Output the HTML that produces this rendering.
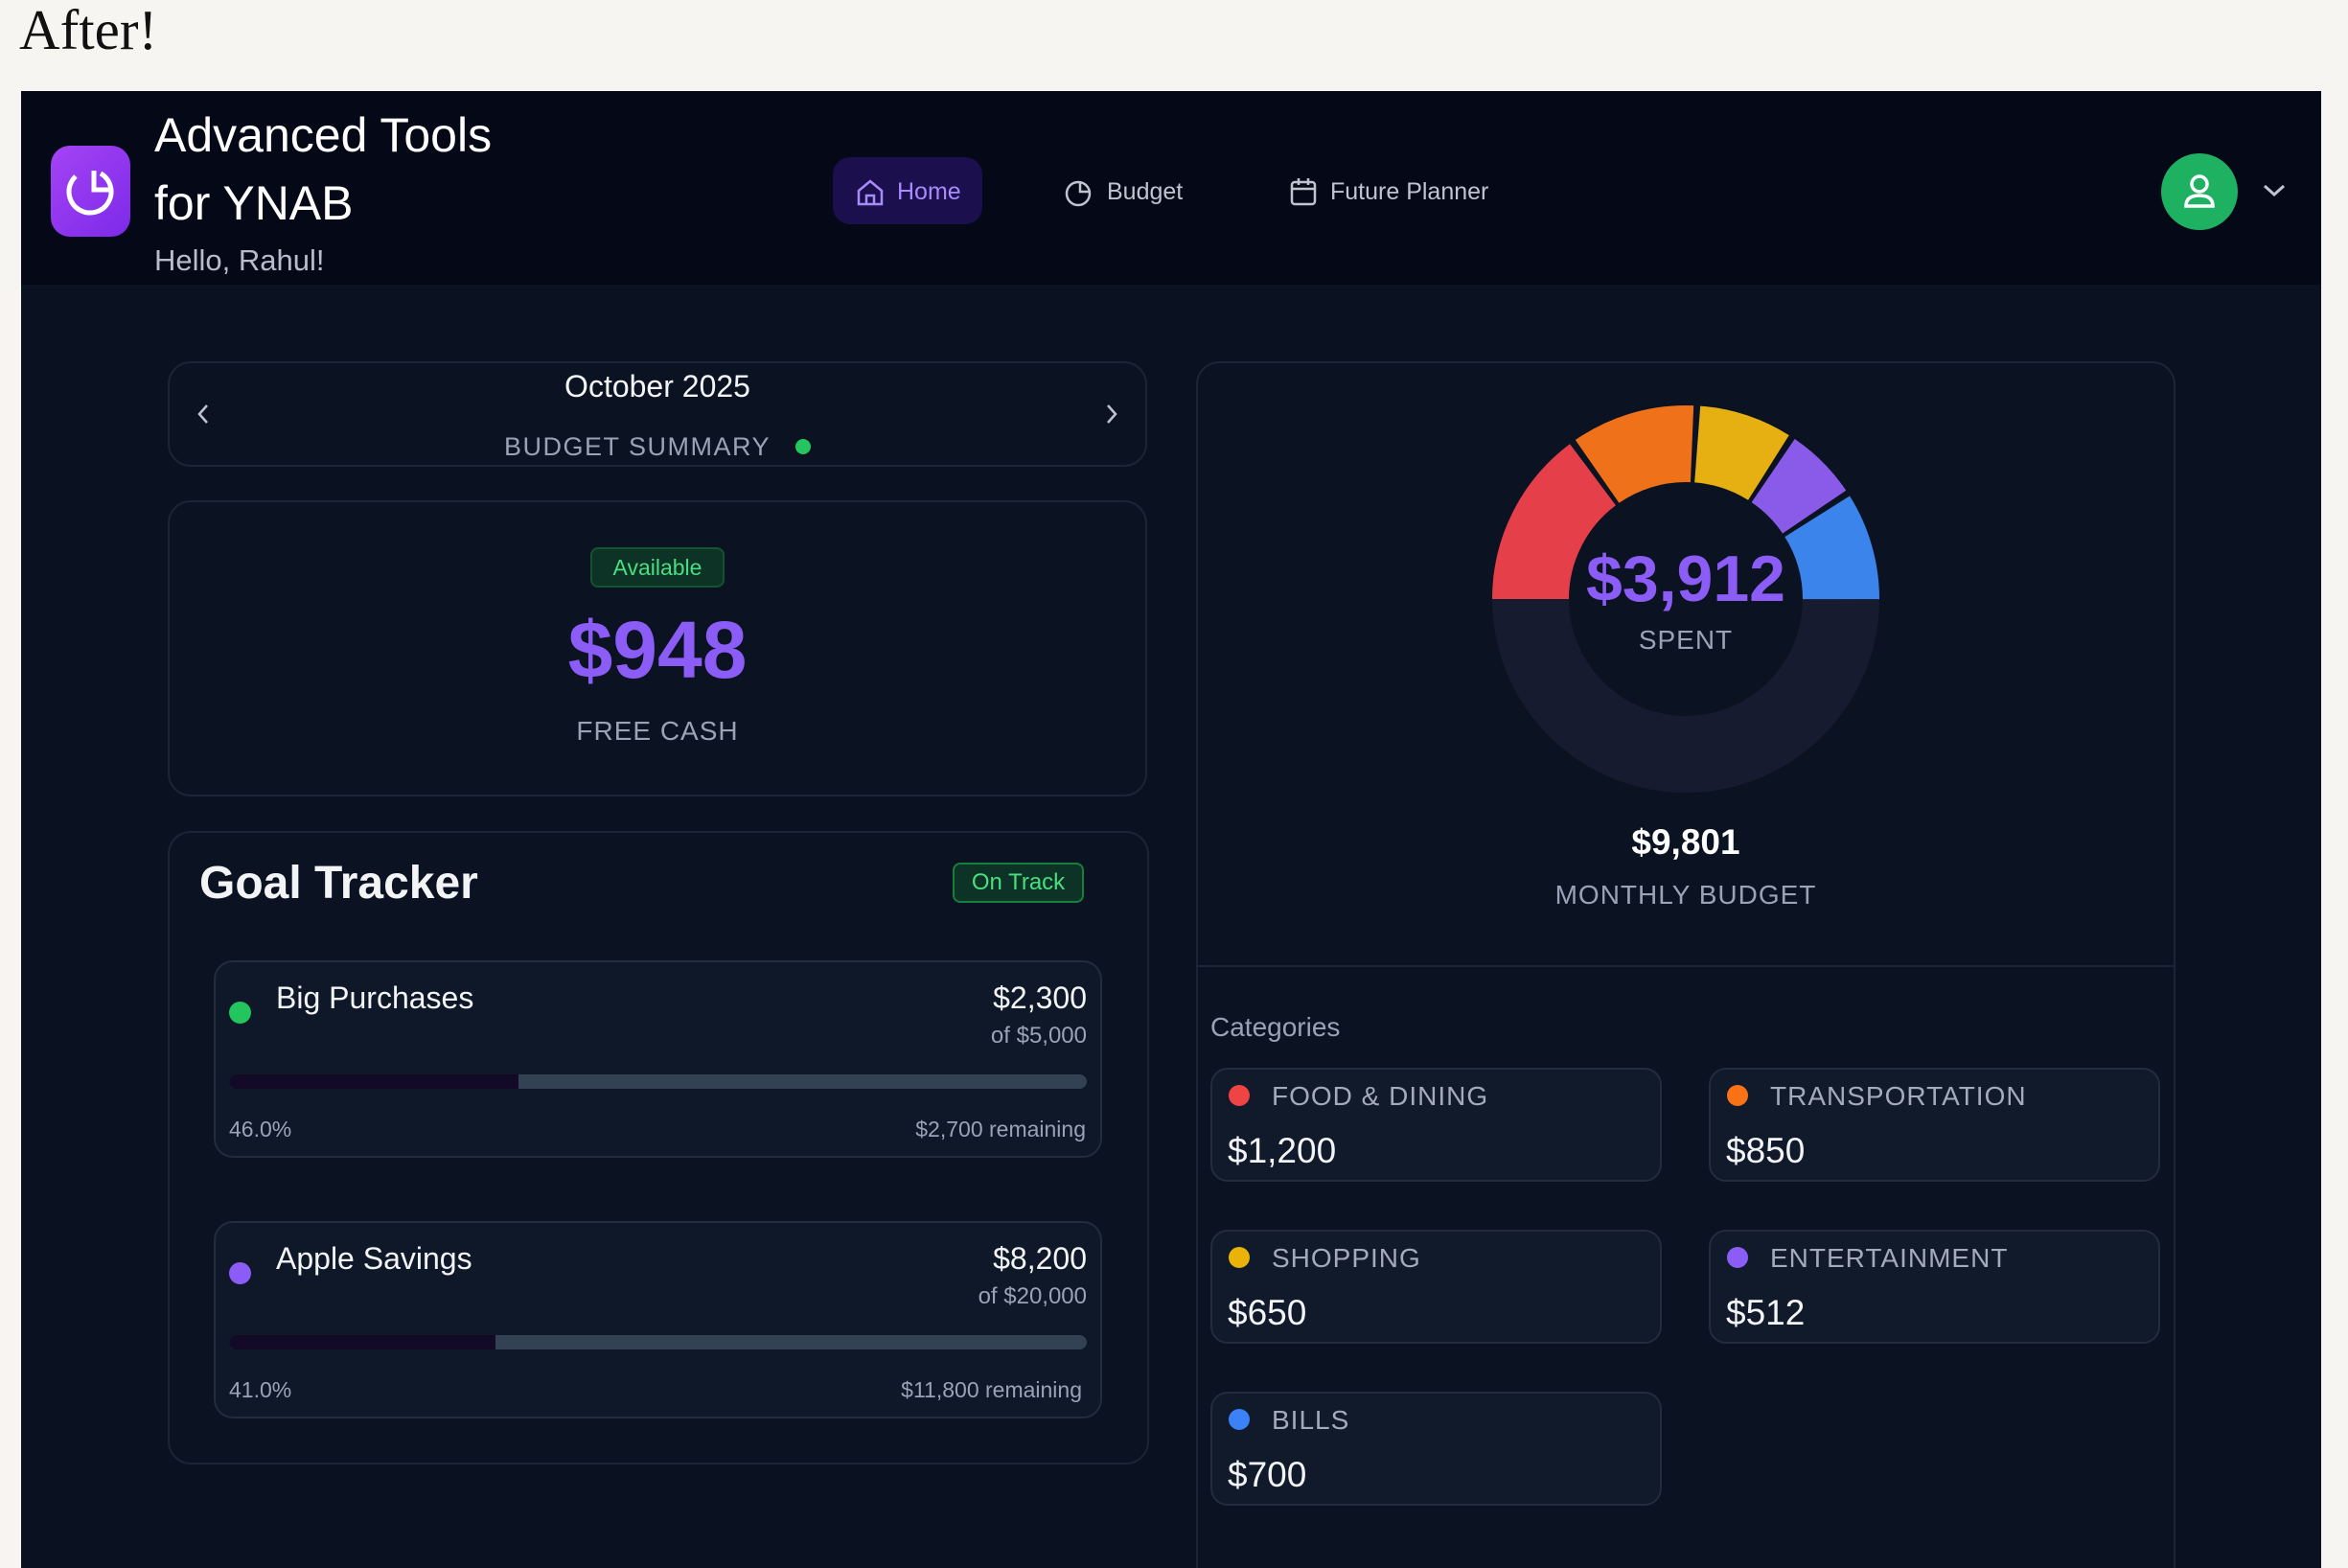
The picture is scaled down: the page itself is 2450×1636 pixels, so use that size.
<!DOCTYPE html>
<html><head><meta charset="utf-8"><style>
*{margin:0;padding:0;box-sizing:border-box}
html,body{width:2450px;height:1636px;overflow:hidden}
body{background:#f6f5f2;position:relative;font-family:"Liberation Sans",sans-serif}
.a{position:absolute;white-space:nowrap;line-height:1}
.card{position:absolute;border:2px solid #1c2536;border-radius:24px;background:#0b1322}
.gray{color:#9aa3b5}
.cat{position:absolute;width:471px;height:119px;border:2px solid #222c3d;border-radius:18px;background:#111a2b}
.cat .d{position:absolute;left:17px;top:16px;width:22px;height:22px;border-radius:50%}
.cat .l{position:absolute;left:62px;top:14px;font-size:28px;letter-spacing:1px;color:#a3abbb;line-height:1}
.cat .v{position:absolute;left:16px;top:66px;font-size:37px;color:#f3f4f6;line-height:1}
</style></head><body>
<div class="a" style="left:20px;top:2px;font-family:'Liberation Serif',serif;font-size:59px;color:#111">After!</div>
<div style="position:absolute;left:22px;top:95px;width:2400px;height:1541px;background:#0a1120"></div>
<div style="position:absolute;left:22px;top:95px;width:2400px;height:202px;background:#050816"></div>
<div style="position:absolute;left:53px;top:152px;width:83px;height:95px;border-radius:20px;background:linear-gradient(135deg,#a543f5,#7c2ae8)"></div>
<svg style="position:absolute;left:53px;top:152px" width="83" height="95"><circle cx="41" cy="48" r="22" fill="none" stroke="#fff" stroke-width="5" stroke-dasharray="110 40" transform="rotate(-60 41 48)"/><path d="M45 26 V46 H64" fill="none" stroke="#fff" stroke-width="5"/></svg>
<div class="a" style="left:161px;top:116px;font-size:50px;color:#fff">Advanced Tools</div>
<div class="a" style="left:161px;top:187px;font-size:50px;color:#fff">for YNAB</div>
<div class="a" style="left:161px;top:256px;font-size:31px;color:#b8bccc">Hello, Rahul!</div>
<div style="position:absolute;left:869px;top:164px;width:156px;height:70px;border-radius:18px;background:#1c0f4d"></div>
<svg style="position:absolute;left:893px;top:186px" width="30" height="30"><path d="M3 13 L15 3 L27 13 V27 H3 Z M11 27 V18 H19 V27" fill="none" stroke="#a78bfa" stroke-width="2.5"/></svg>
<div class="a" style="left:936px;top:188px;font-size:25px;color:#a78bfa">Home</div>
<svg style="position:absolute;left:1110px;top:186px" width="32" height="30"><circle cx="15" cy="16" r="12" fill="none" stroke="#c0c4d0" stroke-width="2.5"/><path d="M17 3 V14 H28" fill="none" stroke="#c0c4d0" stroke-width="2.5"/></svg>
<div class="a" style="left:1155px;top:188px;font-size:25px;color:#c0c4d0">Budget</div>
<svg style="position:absolute;left:1345px;top:184px" width="30" height="32"><rect x="3" y="6" width="24" height="23" rx="3" fill="none" stroke="#c0c4d0" stroke-width="2.5"/><path d="M3 13 H27 M10 2 V9 M20 2 V9" stroke="#c0c4d0" stroke-width="2.5"/></svg>
<div class="a" style="left:1388px;top:188px;font-size:25px;color:#c0c4d0">Future Planner</div>
<div style="position:absolute;left:2255px;top:160px;width:80px;height:80px;border-radius:50%;background:#1fb162"></div>
<svg style="position:absolute;left:2255px;top:160px" width="80" height="80"><circle cx="40" cy="32" r="8" fill="none" stroke="#fff" stroke-width="3.5"/><path d="M26 55 Q26 44 40 44 Q54 44 54 55 Z" fill="none" stroke="#fff" stroke-width="3.5"/></svg>
<svg style="position:absolute;left:2360px;top:190px" width="26" height="18"><path d="M3 4 L13 13 L23 4" fill="none" stroke="#c0c4d0" stroke-width="3"/></svg>

<div class="card" style="left:175px;top:377px;width:1022px;height:110px"></div>
<div class="a" style="left:175px;width:1022px;text-align:center;top:387px;font-size:32px;color:#f3f4f6">October 2025</div>
<div class="a gray" style="left:526px;top:453px;font-size:27px;letter-spacing:1.5px">BUDGET SUMMARY</div>
<div style="position:absolute;left:830px;top:458px;width:16px;height:16px;border-radius:50%;background:#22c55e"></div>
<svg style="position:absolute;left:202px;top:419px" width="20" height="26"><path d="M14 4 L6 13 L14 22" fill="none" stroke="#c0c4d0" stroke-width="2.5"/></svg>
<svg style="position:absolute;left:1150px;top:419px" width="20" height="26"><path d="M6 4 L14 13 L6 22" fill="none" stroke="#c0c4d0" stroke-width="2.5"/></svg>

<div class="card" style="left:175px;top:522px;width:1022px;height:309px"></div>
<div style="position:absolute;left:616px;top:571px;width:140px;height:42px;border-radius:8px;background:#0d3326;border:2px solid #14532d"></div>
<div class="a" style="left:616px;width:140px;text-align:center;top:581px;font-size:23px;color:#4ade80">Available</div>
<div class="a" style="left:175px;width:1022px;text-align:center;top:636px;font-size:84px;font-weight:bold;color:#8b5cf6">$948</div>
<div class="a gray" style="left:175px;width:1022px;text-align:center;top:749px;font-size:28px;letter-spacing:1px">FREE CASH</div>

<div class="card" style="left:175px;top:867px;width:1024px;height:661px"></div>
<div class="a" style="left:208px;top:898px;font-size:48px;font-weight:bold;color:#f3f4f6">Goal Tracker</div>
<div style="position:absolute;left:994px;top:900px;width:137px;height:42px;border-radius:8px;background:#0d3326;border:2px solid #15803d"></div>
<div class="a" style="left:994px;width:137px;text-align:center;top:909px;font-size:24px;color:#4ade80">On Track</div>

<div class="card" style="left:223px;top:1002px;width:927px;height:206px;border-radius:20px;background:#0f1828;border-color:#222c3d"></div>
<div style="position:absolute;left:239px;top:1045px;width:23px;height:23px;border-radius:50%;background:#22c55e"></div>
<div class="a" style="left:288px;top:1025px;font-size:32px;color:#f3f4f6">Big Purchases</div>
<div class="a" style="right:1316px;top:1025px;font-size:32px;color:#f3f4f6">$2,300</div>
<div class="a gray" style="right:1316px;top:1069px;font-size:24px">of $5,000</div>
<div style="position:absolute;left:239px;top:1121px;width:895px;height:15px;border-radius:8px;background:#334155;overflow:hidden"><div style="width:302px;height:15px;background:#120a26"></div></div>
<div class="a gray" style="left:239px;top:1167px;font-size:23px">46.0%</div>
<div class="a gray" style="right:1317px;top:1167px;font-size:23px">$2,700 remaining</div>

<div class="card" style="left:223px;top:1274px;width:927px;height:206px;border-radius:20px;background:#0f1828;border-color:#222c3d"></div>
<div style="position:absolute;left:239px;top:1317px;width:23px;height:23px;border-radius:50%;background:#8b5cf6"></div>
<div class="a" style="left:288px;top:1297px;font-size:32px;color:#f3f4f6">Apple Savings</div>
<div class="a" style="right:1316px;top:1297px;font-size:32px;color:#f3f4f6">$8,200</div>
<div class="a gray" style="right:1316px;top:1341px;font-size:24px">of $20,000</div>
<div style="position:absolute;left:239px;top:1393px;width:895px;height:15px;border-radius:8px;background:#334155;overflow:hidden"><div style="width:278px;height:15px;background:#120a26"></div></div>
<div class="a gray" style="left:239px;top:1439px;font-size:23px">41.0%</div>
<div class="a gray" style="right:1321px;top:1439px;font-size:23px">$11,800 remaining</div>

<div class="card" style="left:1248px;top:377px;width:1022px;height:1259px;border-bottom:none;border-bottom-left-radius:0;border-bottom-right-radius:0"></div>
<div style="position:absolute;left:1250px;top:1007px;width:1018px;height:2px;background:#1c2536"></div>
<svg style="position:absolute;left:0;top:0" width="2450" height="1636">
<g transform="rotate(180 1759 625)" fill="none" stroke-width="80">
<circle cx="1759" cy="625" r="162" stroke="#171b2f" stroke-dasharray="508.9 1017.9" stroke-dashoffset="-508.9"/>
<circle cx="1759" cy="625" r="162" stroke="#e5404a" stroke-dasharray="150.4 1017.9"/>
<circle cx="1759" cy="625" r="162" stroke="#ef7119" stroke-dasharray="104.9 1017.9" stroke-dashoffset="-156.1"/>
<circle cx="1759" cy="625" r="162" stroke="#e6b012" stroke-dasharray="78.9 1017.9" stroke-dashoffset="-266.6"/>
<circle cx="1759" cy="625" r="162" stroke="#8a5ae8" stroke-dasharray="61.1 1017.9" stroke-dashoffset="-351.2"/>
<circle cx="1759" cy="625" r="162" stroke="#3a84ec" stroke-dasharray="91 1017.9" stroke-dashoffset="-417.9"/>
</g></svg>
<div class="a" style="left:1459px;width:600px;text-align:center;top:570px;font-size:68px;font-weight:bold;color:#8b5cf6">$3,912</div>
<div class="a gray" style="left:1459px;width:600px;text-align:center;top:654px;font-size:28px;letter-spacing:1px">SPENT</div>
<div class="a" style="left:1459px;width:600px;text-align:center;top:860px;font-size:37px;font-weight:bold;color:#fff">$9,801</div>
<div class="a gray" style="left:1459px;width:600px;text-align:center;top:920px;font-size:28px;letter-spacing:1px">MONTHLY BUDGET</div>
<div class="a gray" style="left:1263px;top:1058px;font-size:28px">Categories</div>

<div class="cat" style="left:1263px;top:1114px"><div class="d" style="background:#ef4444"></div><div class="l">FOOD &amp; DINING</div><div class="v">$1,200</div></div>
<div class="cat" style="left:1783px;top:1114px"><div class="d" style="background:#f97316"></div><div class="l">TRANSPORTATION</div><div class="v">$850</div></div>
<div class="cat" style="left:1263px;top:1283px"><div class="d" style="background:#eab308"></div><div class="l">SHOPPING</div><div class="v">$650</div></div>
<div class="cat" style="left:1783px;top:1283px"><div class="d" style="background:#8b5cf6"></div><div class="l">ENTERTAINMENT</div><div class="v">$512</div></div>
<div class="cat" style="left:1263px;top:1452px"><div class="d" style="background:#3b82f6"></div><div class="l">BILLS</div><div class="v">$700</div></div>
</body></html>
